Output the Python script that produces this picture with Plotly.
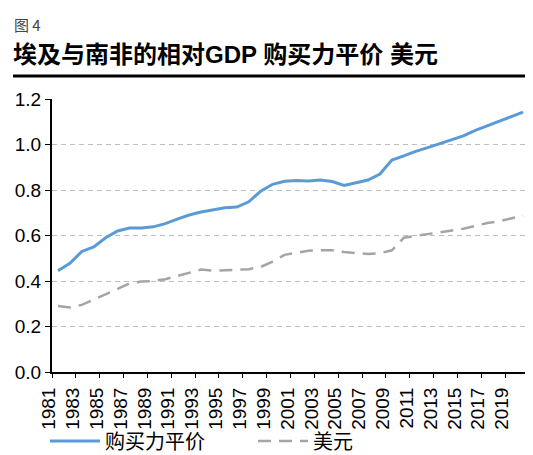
import plotly.graph_objects as go

years = list(range(1981, 2021))
ppp = [0.445, 0.478, 0.53, 0.55, 0.59, 0.62, 0.633, 0.633, 0.638, 0.652,
       0.672, 0.69, 0.703, 0.713, 0.722, 0.725, 0.748, 0.795, 0.825, 0.838,
       0.842, 0.84, 0.844, 0.837, 0.82, 0.832, 0.844, 0.87, 0.932, 0.95,
       0.97, 0.986, 1.003, 1.02, 1.038, 1.062, 1.082, 1.103, 1.122, 1.142]
usd = [0.29, 0.284, 0.295, 0.318, 0.34, 0.365, 0.39, 0.398, 0.40, 0.408,
       0.422, 0.436, 0.45, 0.445, 0.447, 0.45, 0.452, 0.462, 0.485, 0.515,
       0.525, 0.533, 0.535, 0.535, 0.527, 0.522, 0.519, 0.522, 0.535, 0.59,
       0.598, 0.604, 0.612, 0.62, 0.63, 0.642, 0.655, 0.663, 0.675, 0.687]
tick_years = list(range(1981, 2020, 2))
tick_labels = [str(y) for y in tick_years]
y_ticks = [0.0, 0.2, 0.4, 0.6, 0.8, 1.0, 1.2]
series_names = ["购买力平价", "美元"]

FONT = "Liberation Sans, Arial, Noto Sans CJK SC, sans-serif"
CJK = "Noto Sans CJK SC, sans-serif"

# page body has an 8px default margin; lay the figure out in screen pixels
OFF = 8
W, H = 533 - OFF, 455 - OFF
PL, PR, PT, PB = 52, 529, 99, 372          # plot area in screen pixels
L, T = PL - OFF, PT - OFF
R, B = W - (PR - OFF), H - (PB - OFF)
plot_h = PB - PT
plot_w = PR - PL

def py(p):
    return (PB - p) / plot_h

def px(p):
    return (p - PL) / plot_w

fig = go.Figure()
fig.add_trace(go.Scatter(x=years, y=ppp, mode="lines", name=series_names[0],
                         line=dict(color="#5B9BD5", width=3)))
fig.add_trace(go.Scatter(x=years, y=usd, mode="lines", name=series_names[1],
                         line=dict(color="#A5A5A5", width=2.5, dash="13px,8px")))

fig.update_layout(
    width=W, height=H,
    margin=dict(l=L, r=R, t=T, b=B, pad=0, autoexpand=False),
    plot_bgcolor="white", paper_bgcolor="white",
    font=dict(family=FONT, color="black"),
    showlegend=True,
    legend=dict(orientation="h", x=px(45), xanchor="left", y=py(441), yanchor="middle",
                font=dict(family=CJK, size=20, color="black"), itemwidth=50,
                entrywidth=143, entrywidthmode="pixels", bgcolor="rgba(0,0,0,0)"),
    xaxis=dict(range=[1980.5, 2020.5], tickmode="array",
               tickvals=[y - 0.5 for y in tick_years], ticktext=tick_labels,
               tickangle=-90, ticks="outside", ticklen=4, tickcolor="black", tickwidth=1,
               ticklabelshift=-3, ticklabelstandoff=2,
               showline=True, linecolor="black", linewidth=2, showgrid=False,
               zeroline=False, automargin=False, tickfont=dict(size=19, family=FONT)),
    yaxis=dict(range=[0, 1.2], tickmode="array", tickvals=y_ticks,
               ticktext=[f"{v:.1f}" for v in y_ticks],
               ticks="outside", ticklen=5, tickcolor="black",
               showline=True, linecolor="black", linewidth=2,
               showgrid=True, gridcolor="#BFBFBF", gridwidth=1, griddash="5px,4px",
               zeroline=False, automargin=False, tickfont=dict(size=19, family=FONT)),
)

fig.add_annotation(text="图 4", xref="paper", yref="paper", x=px(12), y=py(24),
                   xanchor="left", yanchor="middle", showarrow=False,
                   font=dict(family=CJK, size=15, color="#444444"))
fig.add_annotation(text="<b>埃及与南非的相对GDP 购买力平价 美元</b>", xref="paper", yref="paper",
                   x=px(11), y=py(55), xanchor="left", yanchor="middle", showarrow=False,
                   font=dict(family="Liberation Sans, Noto Sans CJK SC, sans-serif", size=24,
                             color="black"))
fig.add_shape(type="line", xref="paper", yref="paper", x0=px(13), x1=px(540),
              y0=py(76), y1=py(76), line=dict(color="black", width=3))

fig.write_html("out.html")
